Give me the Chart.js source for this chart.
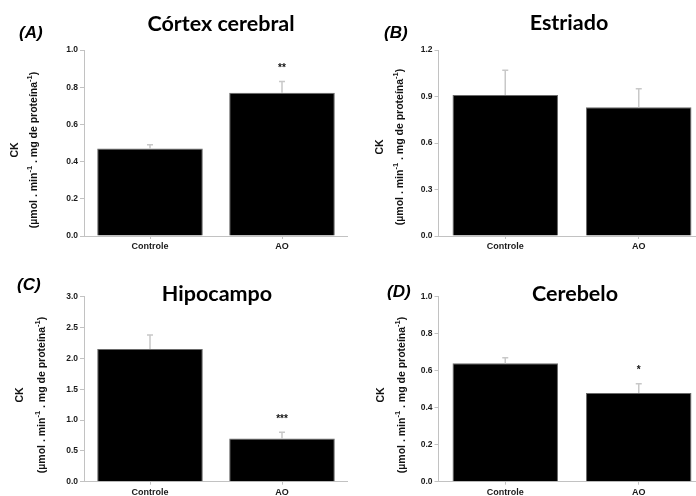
<!DOCTYPE html>
<html>
<head>
<meta charset="utf-8">
<script src="https://cdn.jsdelivr.net/npm/chart.js@4.4.1/dist/chart.umd.min.js"></script>
<style>
  html, body { margin: 0; padding: 0; background: #fff; }
  body { width: 696px; height: 496px; overflow: hidden; position: relative; }
  canvas.panel { position: absolute; }
  .ttl { position: absolute; font-family: Lato, 'Open Sans', sans-serif; font-weight: bold; font-size: 21.5px;
         color: #000; transform: translate(-50%, -50%); white-space: nowrap; }
  .tag { position: absolute; font-family: 'Liberation Sans', Arial, sans-serif; font-weight: bold;
         font-style: italic; font-size: 17px; color: #000; transform: translateY(-50%); white-space: nowrap; }
</style>
</head>
<body>
<canvas id="pA" class="panel" width="348" height="250" style="left:0;top:0"></canvas>
<canvas id="pB" class="panel" width="362" height="250" style="left:348px;top:0"></canvas>
<canvas id="pC" class="panel" width="348" height="246" style="left:0;top:250px"></canvas>
<canvas id="pD" class="panel" width="362" height="246" style="left:348px;top:250px"></canvas>

<div class="ttl" style="left:221px;top:23px">Córtex cerebral</div>
<div class="ttl" style="left:569px;top:22px">Estriado</div>
<div class="ttl" style="left:217px;top:293px">Hipocampo</div>
<div class="ttl" style="left:575px;top:293px">Cerebelo</div>
<div class="tag" style="left:19px;top:33px">(A)</div>
<div class="tag" style="left:384px;top:33px">(B)</div>
<div class="tag" style="left:17px;top:285px">(C)</div>
<div class="tag" style="left:387px;top:292px">(D)</div>

<script>
// Groups on the x axis
const categories = ['Controle', 'AO'];

// CK activity, mean and SEM per group
const cortexMean    = [0.47, 0.77];
const cortexSem     = [0.02, 0.06];
const estriadoMean  = [0.91, 0.83];
const estriadoSem   = [0.16, 0.12];
const hipocampoMean = [2.15, 0.70];
const hipocampoSem  = [0.23, 0.10];
const cerebeloMean  = [0.64, 0.48];
const cerebeloSem   = [0.03, 0.05];

// Significance marks per group
const cortexStars    = ['', '**'];
const estriadoStars  = ['', ''];
const hipocampoStars = ['', '***'];
const cerebeloStars  = ['', '*'];

// Y axis ranges
const cortexAxis    = { max: 1.0, step: 0.2 };
const estriadoAxis  = { max: 1.2, step: 0.3 };
const hipocampoAxis = { max: 3.0, step: 0.5 };
const cerebeloAxis  = { max: 1.0, step: 0.2 };

const FONT = "'Liberation Sans', Arial, sans-serif";
const AXIS_GREY = '#c2c2c2';

// Error bars (upper half) and significance marks
const errorBarPlugin = {
  id: 'errorBars',
  afterDatasetsDraw(chart, args, opts) {
    const ctx = chart.ctx;
    const meta = chart.getDatasetMeta(0);
    const ys = chart.scales.y;
    ctx.save();
    meta.data.forEach((bar, i) => {
      const top = ys.getPixelForValue(opts.mean[i] + opts.sem[i]);
      ctx.strokeStyle = '#c8c8c8';
      ctx.lineWidth = 1.5;
      ctx.beginPath();
      ctx.moveTo(bar.x, bar.y);
      ctx.lineTo(bar.x, top);
      ctx.moveTo(bar.x - 3, top);
      ctx.lineTo(bar.x + 3, top);
      ctx.stroke();
      if (opts.stars[i]) {
        ctx.fillStyle = '#111';
        ctx.font = 'bold 10px ' + FONT;
        ctx.textAlign = 'center';
        ctx.textBaseline = 'middle';
        ctx.fillText(opts.stars[i], bar.x, top - 13);
      }
    });
    ctx.restore();
  }
};

// Two-line rotated y title with superscripts
const yTitlePlugin = {
  id: 'yTitle',
  afterDraw(chart, args, opts) {
    const ctx = chart.ctx;
    ctx.save();
    ctx.fillStyle = '#111';
    ctx.textBaseline = 'middle';
    // first line
    ctx.save();
    ctx.translate(opts.x1, opts.cy);
    ctx.rotate(-Math.PI / 2);
    ctx.font = 'bold 10.5px ' + FONT;
    ctx.textAlign = 'center';
    ctx.fillText('CK', 0, 0);
    ctx.restore();
    // second line
    const parts = [
      { t: '(\u00b5mol . min', sup: false },
      { t: '-1', sup: true },
      { t: ' . mg de prote\u00edna', sup: false },
      { t: '-1', sup: true },
      { t: ')', sup: false }
    ];
    const normal = 'bold 10.5px ' + FONT;
    const small = 'bold 7.5px ' + FONT;
    let total = 0;
    parts.forEach(p => { ctx.font = p.sup ? small : normal; p.w = ctx.measureText(p.t).width; total += p.w; });
    ctx.translate(opts.x2, opts.cy);
    ctx.rotate(-Math.PI / 2);
    ctx.textAlign = 'left';
    let x = -total / 2;
    parts.forEach(p => {
      ctx.font = p.sup ? small : normal;
      ctx.fillText(p.t, x, p.sup ? -4.5 : 0);
      x += p.w;
    });
    ctx.restore();
  }
};

function makePanel(id, mean, sem, stars, axis, box, title, barPct) {
  new Chart(document.getElementById(id), {
    type: 'bar',
    data: {
      labels: categories,
      datasets: [{
        data: mean,
        backgroundColor: '#000',
        borderColor: '#6a6a6a',
        borderWidth: 1,
        barPercentage: barPct,
        categoryPercentage: 1
      }]
    },
    options: {
      responsive: false,
      animation: false,
      devicePixelRatio: 1,
      layout: { padding: { left: 0, top: box.top, right: box.w - box.right, bottom: 0 } },
      plugins: {
        legend: { display: false },
        tooltip: { enabled: false },
        errorBars: { mean, sem, stars },
        yTitle: title
      },
      scales: {
        x: {
          type: 'category',
          grid: { display: true, drawOnChartArea: false, offset: false, tickLength: 3, color: AXIS_GREY },
          border: { color: AXIS_GREY, width: 1 },
          ticks: { font: { family: FONT, size: 9, weight: 'bold' }, color: '#1a1a1a', padding: 2, maxRotation: 0 },
          afterFit(s) { s.height = box.h - box.bottom; }
        },
        y: {
          min: 0,
          max: axis.max,
          grid: { display: true, drawOnChartArea: false, tickLength: 4, color: AXIS_GREY },
          border: { color: AXIS_GREY, width: 1 },
          ticks: {
            stepSize: axis.step,
            font: { family: FONT, size: 8.5, weight: 'bold' },
            color: '#1a1a1a',
            padding: 2,
            callback: v => Number(v).toFixed(1)
          },
          afterFit(s) { s.width = box.left; }
        }
      }
    },
    plugins: [errorBarPlugin, yTitlePlugin]
  });
}

makePanel('pA', cortexMean, cortexSem, cortexStars, cortexAxis,
  { w: 348, h: 250, left: 84, right: 348, top: 50, bottom: 236 },
  { x1: 15, x2: 34, cy: 150 }, 0.8);
makePanel('pB', estriadoMean, estriadoSem, estriadoStars, estriadoAxis,
  { w: 362, h: 250, left: 90.5, right: 357.5, top: 50, bottom: 236 },
  { x1: 32, x2: 52, cy: 147 }, 0.79);
makePanel('pC', hipocampoMean, hipocampoSem, hipocampoStars, hipocampoAxis,
  { w: 348, h: 246, left: 84, right: 348, top: 46.7, bottom: 231.7 },
  { x1: 20, x2: 42, cy: 145 }, 0.8);
makePanel('pD', cerebeloMean, cerebeloSem, cerebeloStars, cerebeloAxis,
  { w: 362, h: 246, left: 90.5, right: 357.5, top: 46.7, bottom: 231.7 },
  { x1: 33, x2: 54, cy: 145 }, 0.79);
</script>
</body>
</html>
